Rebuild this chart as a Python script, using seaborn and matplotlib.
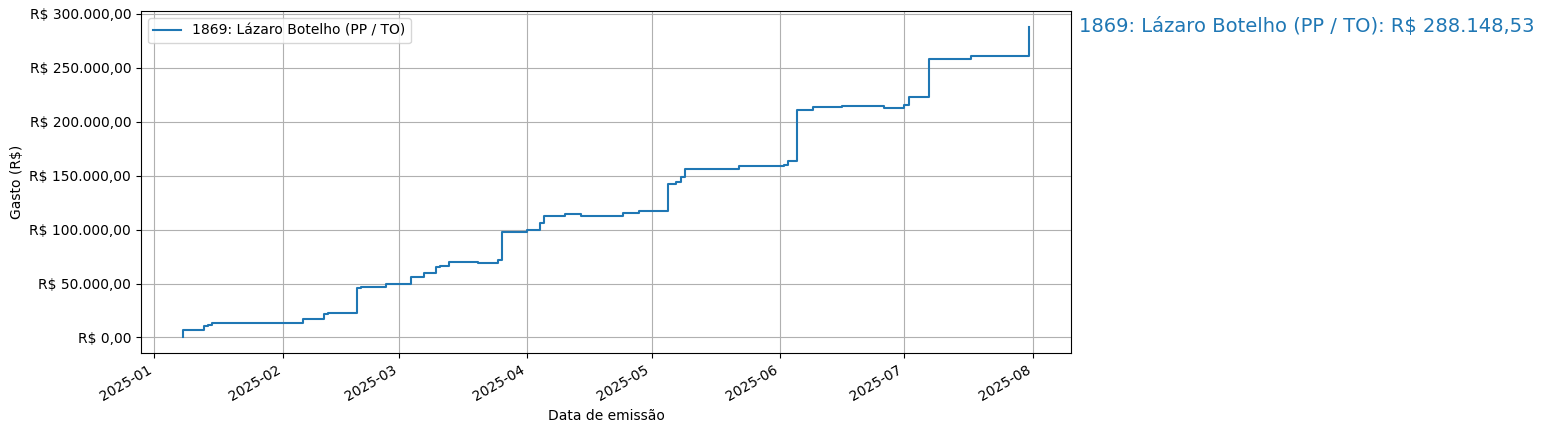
import matplotlib
matplotlib.use("Agg")
import matplotlib.pyplot as plt
import matplotlib.dates as mdates
import matplotlib.transforms as mtransforms
from matplotlib.ticker import FuncFormatter
import seaborn as sns
import pandas as pd

label = "1869: Lázaro Botelho (PP / TO)"

dates = [
    "2025-01-08", "2025-01-08", "2025-01-13", "2025-01-14", "2025-01-15",
    "2025-01-20", "2025-02-06", "2025-02-11", "2025-02-12", "2025-02-19",
    "2025-02-20", "2025-02-26", "2025-03-04", "2025-03-07", "2025-03-10",
    "2025-03-11", "2025-03-13", "2025-03-20", "2025-03-25", "2025-03-26",
    "2025-04-01", "2025-04-04", "2025-04-05", "2025-04-10", "2025-04-14",
    "2025-04-24", "2025-04-28", "2025-05-05", "2025-05-07", "2025-05-08",
    "2025-05-09", "2025-05-22", "2025-06-01", "2025-06-02", "2025-06-03",
    "2025-06-05", "2025-06-09", "2025-06-16", "2025-06-26", "2025-07-01",
    "2025-07-02", "2025-07-02", "2025-07-07", "2025-07-17", "2025-07-31",
]
cumulative = [
    0, 6500, 10600, 11800, 13000,
    13700, 17100, 21700, 23000, 46000,
    47200, 49400, 56250, 60100, 65400,
    66700, 69800, 68600, 71400, 97800,
    99400, 106300, 112900, 114800, 112900,
    115700, 117300, 142700, 143800, 149100,
    156500, 158700, 159300, 160200, 163400,
    210900, 213400, 214200, 212900, 215300,
    217400, 223300, 257800, 261200, 288148.53,
]

df = pd.DataFrame({"data": pd.to_datetime(dates), "gasto": cumulative})


def brl(v, pos=None):
    s = f"{v:,.2f}"
    s = s.replace(",", "X").replace(".", ",").replace("X", ".")
    return f"R$ {s}"


fig = plt.figure(figsize=(15.44, 4.32), dpi=100)
ax = fig.add_axes([0.0913, 0.183, 0.6024, 0.791])

sns.lineplot(data=df, x="data", y="gasto", ax=ax, estimator=None, sort=False,
             drawstyle="steps-post", color="#1f77b4", linewidth=1.5, label=label)

ax.yaxis.set_major_formatter(FuncFormatter(brl))
ax.xaxis.set_major_locator(mdates.MonthLocator())
ax.xaxis.set_major_formatter(mdates.DateFormatter("%Y-%m"))
for t in ax.get_xticklabels():
    t.set_rotation(30)
    t.set_ha("right")

ax.grid(True, color="#b0b0b0", linewidth=0.8)
ax.set_xlabel("Data de emissão")
ax.set_ylabel("Gasto (R$)")
ax.legend(loc="upper left")

trans = mtransforms.blended_transform_factory(ax.transAxes, ax.transData)
ax.text(1.008, cumulative[-1], f"{label}: {brl(cumulative[-1])}", transform=trans,
        color="#1f77b4", fontsize=14, va="center", ha="left")

fig.savefig("out.png", dpi=100)
